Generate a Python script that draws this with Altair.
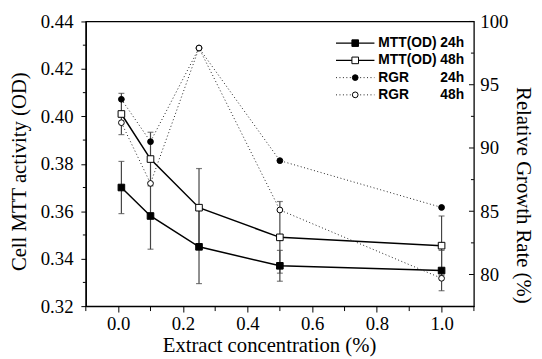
import altair as alt
import pandas as pd

# ---- data ----
conc = [0.01, 0.1, 0.25, 0.5, 1.0]
mtt24 = [0.370, 0.358, 0.345, 0.337, 0.335]
mtt24_err = [0.011, 0.014, 0.0155, 0.0065, 0.0085]
mtt48 = [0.401, 0.382, 0.3615, 0.349, 0.3455]
mtt48_err = [0.0087, 0.0113, 0.0165, 0.0151, 0.0125]
rgr24 = [93.85, 90.5, 97.9, 89.0, 85.3]
rgr48 = [92.0, 87.2, 97.9, 85.1, 79.7]

x_major = [0.0, 0.2, 0.4, 0.6, 0.8, 1.0]
x_minor = [-0.1, 0.1, 0.3, 0.5, 0.7, 0.9, 1.1]
left_major = [0.32, 0.34, 0.36, 0.38, 0.40, 0.42, 0.44]
left_minor = [0.33, 0.35, 0.37, 0.39, 0.41, 0.43]
right_major = [80, 85, 90, 95, 100]
right_minor = [82.5, 87.5, 92.5, 97.5]

legend_rows = [
    ("MTT(OD)", "24h", "solid", "square", "black"),
    ("MTT(OD)", "48h", "solid", "square", "white"),
    ("RGR", "24h", "dot", "circle", "black"),
    ("RGR", "48h", "dot", "circle", "white"),
]

W, H = 394, 289
SERIF = "Liberation Serif"
LFS = 19   # tick label size
TFS = 21   # title size

mtt = pd.DataFrame({
    "conc": conc * 2,
    "v": mtt24 + mtt48,
    "e": mtt24_err + mtt48_err,
    "s": ["24h"] * 5 + ["48h"] * 5,
})
mtt["lo"] = mtt["v"] - mtt["e"]
mtt["hi"] = mtt["v"] + mtt["e"]

rgr = pd.DataFrame({
    "conc": conc * 2,
    "r": rgr24 + rgr48,
    "s": ["24h"] * 5 + ["48h"] * 5,
})

common = dict(labelFont=SERIF, labelFontSize=LFS, labelColor="black",
              titleFont=SERIF, titleFontSize=TFS, titleColor="black",
              titleFontWeight="normal", grid=False)

xscale = alt.Scale(domain=[-0.1, 1.1], nice=False, zero=False)
xaxis = alt.Axis(values=x_major, format=".1f", tickSize=6, labelPadding=3,
                 title="Extract concentration (%)",
                 titleX=186, titleY=46, titleAlign="center", titleBaseline="alphabetic",
                 **common)
lscale = alt.Scale(domain=[0.32, 0.44], nice=False, zero=False)
laxis = alt.Axis(values=left_major, format=".2f", tickSize=5, labelPadding=8,
                 title="Cell MTT activity (OD)",
                 titleX=-67, titleY=152, titleAngle=-90, titleAlign="center",
                 titleBaseline="middle", **common)
rscale = alt.Scale(domain=[77.5, 100], nice=False, zero=False)
raxis = alt.Axis(orient="right", values=right_major, format="d", ticks=False,
                 domain=False, labelPadding=6,
                 title="Relative Growth Rate (%)",
                 titleX=49, titleY=176, titleAngle=90, titleAlign="center",
                 titleBaseline="middle", **common)

fillscale = alt.Scale(domain=["24h", "48h"], range=["black", "white"])

X = lambda f: alt.X(f, type="quantitative", scale=xscale, axis=xaxis)
YL = lambda f: alt.Y(f, type="quantitative", scale=lscale, axis=laxis)
YR = lambda f: alt.Y(f, type="quantitative", scale=rscale, axis=raxis)

base_m = alt.Chart(mtt)
m_line = base_m.mark_line(color="black", strokeWidth=1.5).encode(
    x=X("conc"), y=YL("v"), detail="s:N")
m_err = base_m.mark_rule(color="#444", strokeWidth=1.2).encode(
    x=X("conc"), y=YL("lo"), y2="hi")
m_cap_lo = base_m.mark_tick(orient="horizontal", size=6, thickness=1.2, color="#444").encode(
    x=X("conc"), y=YL("lo"))
m_cap_hi = base_m.mark_tick(orient="horizontal", size=6, thickness=1.2, color="#444").encode(
    x=X("conc"), y=YL("hi"))
m_pts = base_m.mark_point(shape="square", filled=True, size=45, stroke="black",
                          strokeWidth=1, opacity=1).encode(
    x=X("conc"), y=YL("v"),
    fill=alt.Fill("s:N", scale=fillscale, legend=None))
lm = pd.DataFrame({"t": left_minor})
m_minor = alt.Chart(lm).mark_rule(color="black", strokeWidth=1).encode(
    y=YL("t"), x=alt.value(-3), x2=alt.value(0))
xm = pd.DataFrame({"t": x_minor})
x_minor_ticks = alt.Chart(xm).mark_rule(color="black", strokeWidth=1).encode(
    x=X("t"), y=alt.value(H), y2=alt.value(H + 5))

group_a = alt.layer(m_line, m_err, m_cap_lo, m_cap_hi, m_pts, m_minor, x_minor_ticks)

base_r = alt.Chart(rgr)
r_line = base_r.mark_line(color="#222", strokeWidth=1, strokeDash=[1, 2.5]).encode(
    x=X("conc"), y=YR("r"), detail="s:N")
r_pts = base_r.mark_point(shape="circle", filled=True, size=34, stroke="black",
                          strokeWidth=1, opacity=1).encode(
    x=X("conc"), y=YR("r"),
    fill=alt.Fill("s:N", scale=fillscale, legend=None))
rmaj = pd.DataFrame({"t": right_major})
r_ticks = alt.Chart(rmaj).mark_rule(color="black", strokeWidth=1).encode(
    y=YR("t"), x=alt.value(W - 5), x2=alt.value(W))
rmin = pd.DataFrame({"t": right_minor})
r_mticks = alt.Chart(rmin).mark_rule(color="black", strokeWidth=1).encode(
    y=YR("t"), x=alt.value(W - 3), x2=alt.value(W))

group_b = alt.layer(r_line, r_pts, r_ticks, r_mticks)

# ---- manual legend ----
one = pd.DataFrame({"k": [0]})
leg_layers = []
LX1, LX2, LXM, LTX, LTR = 254, 293, 273.5, 297, 384
for i, (name, tm, style, shape, fill) in enumerate(legend_rows):
    yy = 22 + i * 17.5
    if style == "solid":
        leg_layers.append(alt.Chart(one).mark_rule(color="black", strokeWidth=1.5).encode(
            x=alt.value(LX1), x2=alt.value(LX2), y=alt.value(yy)))
    else:
        leg_layers.append(alt.Chart(one).mark_rule(color="#222", strokeWidth=1,
                                                   strokeDash=[1, 2.5]).encode(
            x=alt.value(LX1), x2=alt.value(LX2), y=alt.value(yy)))
    leg_layers.append(alt.Chart(one).mark_point(
        shape=shape, filled=True, fill=fill, stroke="black", strokeWidth=1, opacity=1,
        size=45 if shape == "square" else 34).encode(
        x=alt.value(LXM), y=alt.value(yy)))
    leg_layers.append(alt.Chart(one).mark_text(
        align="left", baseline="middle", font="Liberation Sans", fontWeight="bold",
        fontSize=14, color="black").encode(
        x=alt.value(LTX), y=alt.value(yy), text=alt.value(name)))
    leg_layers.append(alt.Chart(one).mark_text(
        align="right", baseline="middle", font="Liberation Sans", fontWeight="bold",
        fontSize=14, color="black").encode(
        x=alt.value(LTR), y=alt.value(yy), text=alt.value(tm)))

chart = alt.layer(group_a, group_b, *leg_layers).resolve_scale(
    y="independent", fill="independent"
).properties(
    width=W, height=H,
    autosize=alt.AutoSizeParams(type="none"),
    padding={"left": 79, "top": 11, "right": 61, "bottom": 51},
).configure_view(
    stroke="black", strokeWidth=1.3
).configure_axis(
    labelFont=SERIF, titleFont=SERIF, labelFontSize=LFS, titleFontSize=TFS,
    labelColor="black", titleColor="black", tickColor="black",
    domainColor="black", domainWidth=1.3, tickWidth=1, grid=False,
    titleFontWeight="normal",
)

chart.save("out.html", embed_options={"renderer": "svg", "actions": False})
